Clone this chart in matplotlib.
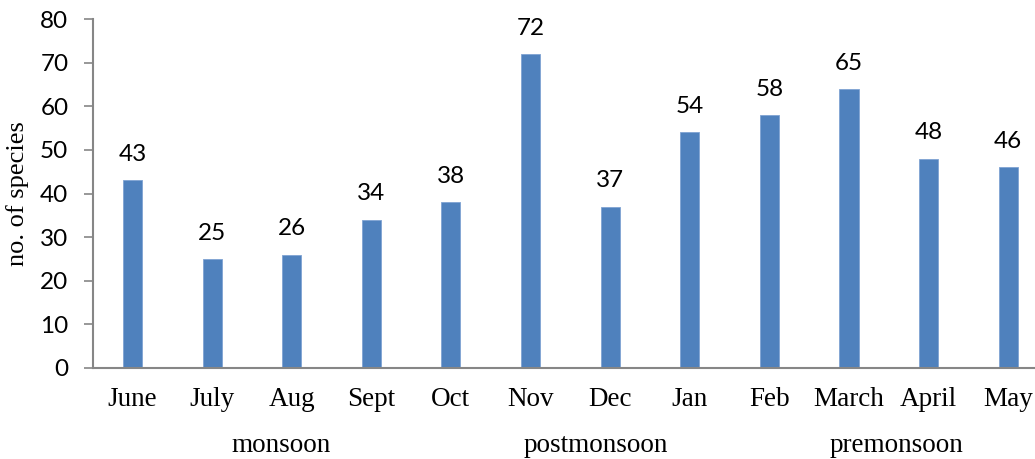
import matplotlib
matplotlib.use("Agg")
import matplotlib.pyplot as plt

months = ["June", "July", "Aug", "Sept", "Oct", "Nov", "Dec", "Jan", "Feb", "March", "April", "May"]
species = [43, 25, 26, 34, 38, 72, 37, 54, 58, 64, 48, 46]
value_labels = ["43", "25", "26", "34", "38", "72", "37", "54", "58", "65", "48", "46"]
seasons = ["monsoon", "postmonsoon", "premonsoon"]
season_pos = [1.87, 5.82, 9.6]

W, H = 1035, 459
fig = plt.figure(figsize=(W / 100, H / 100), dpi=100)
left, right, bottom, top = 92.7, 1048.0, 368.0, 19.0
ax = fig.add_axes([left / W, 1 - bottom / H, (right - left) / W, (bottom - top) / H])

x = list(range(len(months)))
bars = ax.bar(x, species, width=0.24, color="#4F81BD", edgecolor="#7FA3D3", linewidth=0.6, zorder=2)
ax.set_xlim(-0.5, 11.5)
ax.set_ylim(0, 80)
ax.set_yticks(range(0, 81, 10))

for xi, v, lab in zip(x, species, value_labels):
    ax.annotate(lab, (xi, v), xytext=(0, 11), textcoords="offset points",
                ha="center", va="bottom", fontsize=17.5, family="Lato", color="black")

for s in ["top", "right"]:
    ax.spines[s].set_visible(False)
for s in ["left", "bottom"]:
    ax.spines[s].set_color("#868686")
    ax.spines[s].set_linewidth(1.5)

ax.tick_params(axis="y", direction="out", length=6.5, width=1.2, color="#868686",
               labelsize=17.5, pad=11)
for t in ax.get_yticklabels():
    t.set_family("Lato")
ax.set_xticks(x)
ax.set_xticklabels(months, family="Liberation Serif", fontsize=19.5)
ax.tick_params(axis="x", length=0, pad=14)

ax.set_ylabel("no. of species", family="Liberation Serif", fontsize=19, labelpad=8)

for name, pos in zip(seasons, season_pos):
    ax.text(pos, -17.8, name, ha="center", va="center", family="Liberation Serif",
            fontsize=19.5, transform=ax.transData, clip_on=False)

fig.savefig("out.png", dpi=100)
